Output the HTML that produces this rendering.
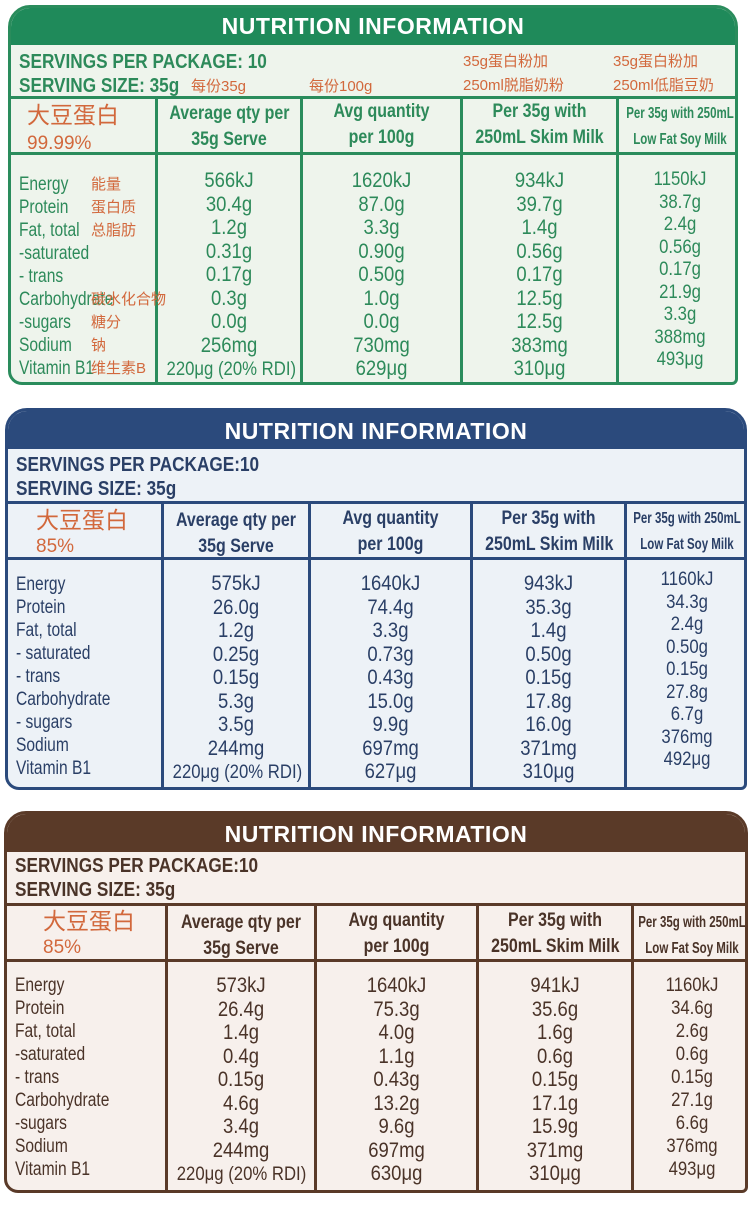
<!DOCTYPE html>
<html><head><meta charset="utf-8"><style>
*{margin:0;padding:0;box-sizing:border-box}
body{width:750px;height:1221px;background:#fff;position:relative;overflow:hidden;font-family:"Liberation Sans","Noto Sans CJK SC",sans-serif}
.p{position:absolute;border:3px solid;border-radius:22px 22px 6px 14px;overflow:hidden}
.t{position:absolute;left:0;right:0;top:0;color:#fff;font-weight:bold;font-family:"Liberation Sans",sans-serif;font-size:23px;text-align:center;letter-spacing:0.5px}
.s{position:absolute;left:8px;font-weight:bold;font-size:20px;line-height:24px;transform:scaleX(.86);transform-origin:left center;white-space:nowrap}
.hl{position:absolute;left:0;right:0;height:3px}
.vl{position:absolute;width:3px}
.h{position:absolute;text-align:center;font-weight:bold;font-size:19px;line-height:26px;white-space:nowrap;transform:scaleX(.84);transform-origin:center}
.h.sm{font-size:16px;transform:scaleX(.72)}
.c{position:absolute;text-align:center;font-size:21px;white-space:nowrap;transform:scaleX(.88);transform-origin:center}
.l{position:absolute;left:8px;font-size:19px;white-space:nowrap;transform:scaleX(.82);transform-origin:left top}
.o{color:#d2683c;font-family:"Liberation Sans","Noto Sans CJK SC",sans-serif}
.cj{position:absolute;font-size:15px;color:#d2683c;font-family:"Liberation Sans","Noto Sans CJK SC",sans-serif;white-space:nowrap}
</style></head><body>

<!-- GREEN -->
<div class="p" style="left:8px;top:5px;width:730px;height:380px;border-color:#2a8c5c;background:#eef4ec;color:#2d8a5a">
 <div class="t" style="height:37px;line-height:37px;background:#1f8a5a">NUTRITION INFORMATION</div>
 <div class="s" style="top:42px">SERVINGS PER PACKAGE: 10<br>SERVING SIZE: 35g</div>
 <div class="cj" style="left:180px;top:67px">每份35g</div>
 <div class="cj" style="left:298px;top:67px">每份100g</div>
 <div class="cj" style="left:452px;top:42px;line-height:24px">35g蛋白粉加<br>250ml脱脂奶粉</div>
 <div class="cj" style="left:602px;top:42px;line-height:24px">35g蛋白粉加<br>250ml低脂豆奶</div>
 <div class="hl" style="top:88px;background:#2a8c5c"></div>
 <div class="hl" style="top:144px;background:#2a8c5c"></div>
 <div class="vl" style="left:144px;top:88px;bottom:0;background:#2a8c5c"></div>
 <div class="vl" style="left:289px;top:88px;bottom:0;background:#2a8c5c"></div>
 <div class="vl" style="left:449px;top:88px;bottom:0;background:#2a8c5c"></div>
 <div class="vl" style="left:605px;top:88px;bottom:0;background:#2a8c5c"></div>
 <div class="o" style="position:absolute;left:16px;top:94px;font-size:23px;line-height:26px">大豆蛋白<br><span style="font-size:19px">99.99%</span></div>
 <div class="h" style="left:147px;width:142px;top:93px">Average qty per<br>35g Serve</div>
 <div class="h" style="left:292px;width:157px;top:91px">Avg quantity<br>per 100g</div>
 <div class="h" style="left:452px;width:153px;top:91px">Per 35g with<br>250mL Skim Milk</div>
 <div class="h sm" style="left:588px;width:162px;top:93px">Per 35g with 250mL<br>Low Fat Soy Milk</div>
 <div class="l" style="top:165px;line-height:23px">Energy<br>Protein<br>Fat, total<br>-saturated<br>- trans<br>Carbohydrate<br>-sugars<br>Sodium<br>Vitamin B1</div>
 <div class="cj" style="left:80px;top:165px;line-height:23px">能量<br>蛋白质<br>总脂肪<br><br><br>碳水化合物<br>糖分<br>钠<br>维生素B</div>
 <div class="c" style="left:147px;width:142px;top:161px;line-height:23.5px">566kJ<br>30.4g<br>1.2g<br>0.31g<br>0.17g<br>0.3g<br>0.0g<br>256mg<br><span style="font-size:19px">220μg (20% RDI)</span></div>
 <div class="c" style="left:292px;width:157px;top:161px;line-height:23.5px">1620kJ<br>87.0g<br>3.3g<br>0.90g<br>0.50g<br>1.0g<br>0.0g<br>730mg<br>629μg</div>
 <div class="c" style="left:452px;width:153px;top:161px;line-height:23.5px">934kJ<br>39.7g<br>1.4g<br>0.56g<br>0.17g<br>12.5g<br>12.5g<br>383mg<br>310μg</div>
 <div class="c" style="left:608px;width:122px;top:161px;line-height:22.5px;font-size:19px">1150kJ<br>38.7g<br>2.4g<br>0.56g<br>0.17g<br>21.9g<br>3.3g<br>388mg<br>493μg</div>
</div>

<!-- BLUE -->
<div class="p" style="left:5px;top:408px;width:742px;height:382px;border-color:#2b4a7c;background:#edf2f7;color:#2a3f66">
 <div class="t" style="height:38px;line-height:40px;background:#2b4a7c">NUTRITION INFORMATION</div>
 <div class="s" style="top:42px">SERVINGS PER PACKAGE:10<br>SERVING SIZE: 35g</div>
 <div class="hl" style="top:90px;background:#2b4a7c"></div>
 <div class="hl" style="top:146px;background:#2b4a7c"></div>
 <div class="vl" style="left:153px;top:90px;bottom:0;background:#2b4a7c"></div>
 <div class="vl" style="left:300px;top:90px;bottom:0;background:#2b4a7c"></div>
 <div class="vl" style="left:462px;top:90px;bottom:0;background:#2b4a7c"></div>
 <div class="vl" style="left:616px;top:90px;bottom:0;background:#2b4a7c"></div>
 <div class="o" style="position:absolute;left:28px;top:97px;font-size:23px;line-height:24px">大豆蛋白<br><span style="font-size:19px">85%</span></div>
 <div class="h" style="left:156px;width:144px;top:97px">Average qty per<br>35g Serve</div>
 <div class="h" style="left:303px;width:159px;top:95px">Avg quantity<br>per 100g</div>
 <div class="h" style="left:465px;width:151px;top:95px">Per 35g with<br>250mL Skim Milk</div>
 <div class="h sm" style="left:598px;width:162px;top:95px">Per 35g with 250mL<br>Low Fat Soy Milk</div>
 <div class="l" style="top:162px;line-height:23px">Energy<br>Protein<br>Fat, total<br>- saturated<br>- trans<br>Carbohydrate<br>- sugars<br>Sodium<br>Vitamin B1</div>
 <div class="c" style="left:156px;width:144px;top:161px;line-height:23.5px">575kJ<br>26.0g<br>1.2g<br>0.25g<br>0.15g<br>5.3g<br>3.5g<br>244mg<br><span style="font-size:19px">220μg (20% RDI)</span></div>
 <div class="c" style="left:303px;width:159px;top:161px;line-height:23.5px">1640kJ<br>74.4g<br>3.3g<br>0.73g<br>0.43g<br>15.0g<br>9.9g<br>697mg<br>627μg</div>
 <div class="c" style="left:465px;width:151px;top:161px;line-height:23.5px">943kJ<br>35.3g<br>1.4g<br>0.50g<br>0.15g<br>17.8g<br>16.0g<br>371mg<br>310μg</div>
 <div class="c" style="left:619px;width:120px;top:158px;line-height:22.5px;font-size:19px">1160kJ<br>34.3g<br>2.4g<br>0.50g<br>0.15g<br>27.8g<br>6.7g<br>376mg<br>492μg</div>
</div>

<!-- BROWN -->
<div class="p" style="left:4px;top:811px;width:744px;height:382px;border-color:#5a3a28;background:#f7f0ec;color:#4a3328">
 <div class="t" style="height:38px;line-height:40px;background:#5a3a28">NUTRITION INFORMATION</div>
 <div class="s" style="top:40px">SERVINGS PER PACKAGE:10<br>SERVING SIZE: 35g</div>
 <div class="hl" style="top:89px;background:#5a3a28"></div>
 <div class="hl" style="top:145px;background:#5a3a28"></div>
 <div class="vl" style="left:158px;top:89px;bottom:0;background:#5a3a28"></div>
 <div class="vl" style="left:307px;top:89px;bottom:0;background:#5a3a28"></div>
 <div class="vl" style="left:469px;top:89px;bottom:0;background:#5a3a28"></div>
 <div class="vl" style="left:624px;top:89px;bottom:0;background:#5a3a28"></div>
 <div class="o" style="position:absolute;left:36px;top:95px;font-size:23px;line-height:24px">大豆蛋白<br><span style="font-size:19px">85%</span></div>
 <div class="h" style="left:161px;width:146px;top:96px">Average qty per<br>35g Serve</div>
 <div class="h" style="left:310px;width:159px;top:94px">Avg quantity<br>per 100g</div>
 <div class="h" style="left:472px;width:152px;top:94px">Per 35g with<br>250mL Skim Milk</div>
 <div class="h sm" style="left:604px;width:162px;top:96px">Per 35g with 250mL<br>Low Fat Soy Milk</div>
 <div class="l" style="top:160px;line-height:23px">Energy<br>Protein<br>Fat, total<br>-saturated<br>- trans<br>Carbohydrate<br>-sugars<br>Sodium<br>Vitamin B1</div>
 <div class="c" style="left:161px;width:146px;top:160px;line-height:23.5px">573kJ<br>26.4g<br>1.4g<br>0.4g<br>0.15g<br>4.6g<br>3.4g<br>244mg<br><span style="font-size:19px">220μg (20% RDI)</span></div>
 <div class="c" style="left:310px;width:159px;top:160px;line-height:23.5px">1640kJ<br>75.3g<br>4.0g<br>1.1g<br>0.43g<br>13.2g<br>9.6g<br>697mg<br>630μg</div>
 <div class="c" style="left:472px;width:152px;top:160px;line-height:23.5px">941kJ<br>35.6g<br>1.6g<br>0.6g<br>0.15g<br>17.1g<br>15.9g<br>371mg<br>310μg</div>
 <div class="c" style="left:627px;width:116px;top:160px;line-height:23px;font-size:19px">1160kJ<br>34.6g<br>2.6g<br>0.6g<br>0.15g<br>27.1g<br>6.6g<br>376mg<br>493μg</div>
</div>
</body></html>
